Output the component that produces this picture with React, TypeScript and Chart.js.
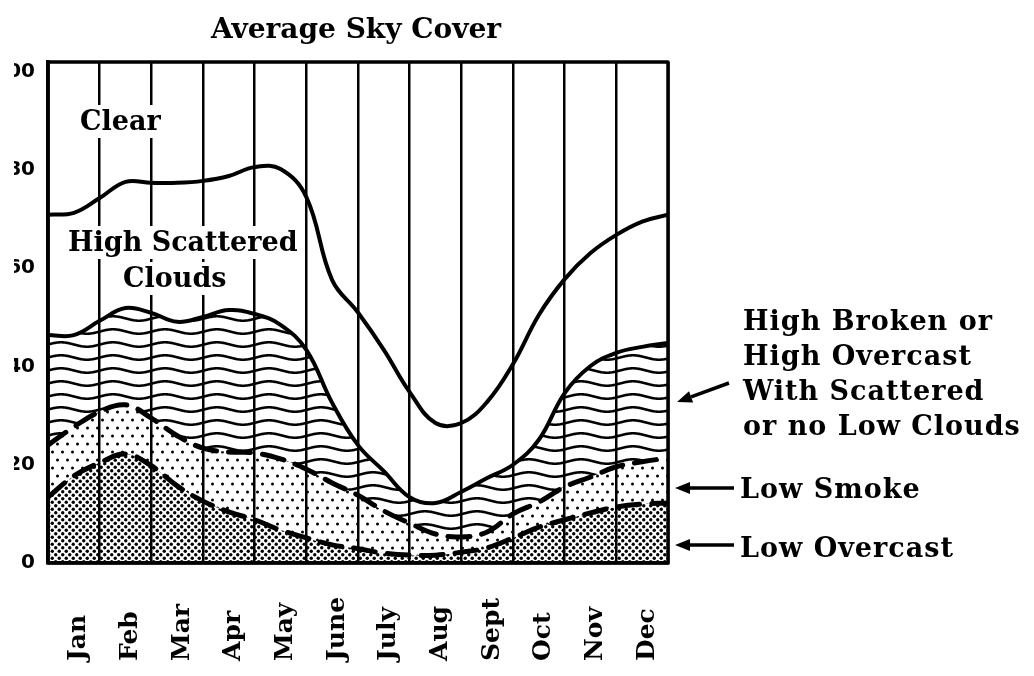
import React, { useEffect, useRef } from "react";
import { Chart, registerables } from "chart.js";

Chart.register(...registerables);

// horizontal shift of the canvas (the reference crops the y labels on the left)
const OFF = 30;

const months = ["Jan", "Feb", "Mar", "Apr", "May", "June", "July", "Aug", "Sept", "Oct", "Nov", "Dec"];
const yTickValues = [0, 20, 40, 60, 80, 100];
// positions in months: edges, mid-months and month boundaries
const xPositions = [0, 0.5, 1, 1.5, 2, 2.5, 3, 3.5, 4, 4.5, 5, 5.5, 6, 6.5, 7, 7.5, 8, 8.5, 9, 9.5, 10, 10.5, 11, 11.5, 12];

// cumulative tops (percent of sky) of each layer
const lowOvercastTop = [13.4, 17.7, 20.4, 22.2, 19.8, 15.7, 12.6, 10.4, 8.8, 6.7, 5.1, 3.7, 2.9, 2.0, 1.6, 1.6, 2.2, 3.1, 5.1, 7.3, 8.8, 10.2, 11.4, 12.0, 12.2];
const lowSmokeTop = [24.0, 27.7, 30.8, 32.2, 29.5, 25.9, 23.4, 22.6, 22.4, 21.2, 19.1, 16.3, 13.8, 10.6, 8.1, 5.9, 5.3, 6.3, 10.0, 12.4, 15.5, 17.5, 19.6, 20.6, 21.4];
const highBrokenTop = [46.4, 46.4, 49.3, 51.9, 50.9, 49.1, 50.1, 51.5, 50.7, 48.5, 43.4, 32.6, 24.0, 18.7, 13.4, 12.2, 14.5, 17.3, 20.0, 25.1, 34.6, 40.1, 42.8, 44.0, 44.8];
const highScatteredTop = [70.9, 71.3, 74.3, 77.6, 77.4, 77.4, 77.8, 78.8, 80.6, 80.2, 74.5, 57.6, 51.0, 43.4, 34.8, 28.5, 28.5, 32.8, 40.5, 50.5, 57.8, 63.1, 66.8, 69.5, 70.9];

const titleText = "Average Sky Cover";
const clearLabel = "Clear";
const scatteredLabel = ["High Scattered", "Clouds"];
const brokenLabel = ["High Broken or", "High Overcast", "With Scattered", "or no Low Clouds"];
const smokeLabel = "Low Smoke";
const overcastLabel = "Low Overcast";

const SERIF = "'DejaVu Serif', serif";

function makePattern(w: number, h: number, draw: (g: CanvasRenderingContext2D) => void): CanvasPattern {
  const c = document.createElement("canvas");
  c.width = w;
  c.height = h;
  const g = c.getContext("2d") as CanvasRenderingContext2D;
  draw(g);
  return g.createPattern(c, "repeat") as CanvasPattern;
}

function dot(g: CanvasRenderingContext2D, x: number, y: number, r: number) {
  g.beginPath();
  g.arc(x, y, r, 0, Math.PI * 2);
  g.fill();
}

function arrow(ctx: CanvasRenderingContext2D, x1: number, y1: number, x2: number, y2: number) {
  const a = Math.atan2(y2 - y1, x2 - x1);
  const hl = 15, hw = 6;
  const bx = x2 - hl * Math.cos(a), by = y2 - hl * Math.sin(a);
  ctx.beginPath();
  ctx.moveTo(x1, y1);
  ctx.lineTo(bx, by);
  ctx.lineWidth = 3.5;
  ctx.stroke();
  ctx.beginPath();
  ctx.moveTo(x2, y2);
  ctx.lineTo(bx + hw * Math.sin(a), by - hw * Math.cos(a));
  ctx.lineTo(bx - hw * Math.sin(a), by + hw * Math.cos(a));
  ctx.closePath();
  ctx.fill();
}

const annotPlugin = {
  id: "annot",
  afterDraw(chart: any) {
    const ctx: CanvasRenderingContext2D = chart.ctx;
    const { left, top, right, bottom } = chart.chartArea;
    const P = (x: number) => x + OFF;
    ctx.save();
    ctx.strokeStyle = "#000";
    ctx.fillStyle = "#000";
    // frame
    ctx.lineWidth = 3.5;
    ctx.lineJoin = "round";
    ctx.strokeRect(left, top, right - left, bottom - top);

    // title
    ctx.font = `bold 28px ${SERIF}`;
    ctx.textAlign = "center";
    ctx.textBaseline = "alphabetic";
    ctx.fillText(titleText, P(356), 38);

    // in-plot labels with white background
    ctx.textAlign = "left";
    ctx.font = `bold 27px ${SERIF}`;
    const boxed = (t: string, x: number, y: number) => {
      const w = ctx.measureText(t).width;
      ctx.fillStyle = "#fff";
      ctx.fillRect(x - 4, y - 25, w + 8, 33);
      ctx.fillStyle = "#000";
      ctx.fillText(t, x, y);
    };
    boxed(clearLabel, P(80), 130);
    boxed(scatteredLabel[0], P(68), 251);
    boxed(scatteredLabel[1], P(123), 287);

    // right-hand labels
    ctx.font = `bold 27px ${SERIF}`;
    try {
      (ctx as any).letterSpacing = "1px";
    } catch (e) {}
    brokenLabel.forEach((t, i) => ctx.fillText(t, P(743), 330 + i * 35));
    ctx.fillText(smokeLabel, P(740), 498);
    ctx.fillText(overcastLabel, P(740), 557);
    try {
      (ctx as any).letterSpacing = "0px";
    } catch (e) {}
    arrow(ctx, P(729), 383, P(677), 402);
    arrow(ctx, P(734), 488, P(675), 488);
    arrow(ctx, P(734), 545, P(675), 545);

    // month labels, rotated, reading upward
    const xs = chart.scales.x;
    ctx.font = `bold 25px ${SERIF}`;
    ctx.textAlign = "left";
    ctx.textBaseline = "middle";
    months.forEach((m, i) => {
      const px = xs.getPixelForValue(i);
      ctx.save();
      ctx.translate(px + 5, 661);
      ctx.rotate(-Math.PI / 2);
      ctx.fillText(m, 0, 0);
      ctx.restore();
    });

    // crop on the left like the scanned page
    ctx.fillStyle = "#fff";
    ctx.fillRect(0, 0, OFF + 14, chart.height);
    ctx.restore();
  },
};

export default function App() {
  const ref = useRef<HTMLCanvasElement | null>(null);

  useEffect(() => {
    if (!ref.current) return;
    const plotLeft = 78;

    const dense = makePattern(7, 7, (g) => {
      g.fillStyle = "#000";
      dot(g, 1.75, 1.75, 1.7);
      dot(g, 5.25, 5.25, 1.7);
    });
    const sparse = makePattern(10, 16, (g) => {
      g.fillStyle = "#000";
      dot(g, 2.5, 4, 1.5);
      dot(g, 7.5, 12, 1.5);
    });
    const waves = makePattern(52, 13, (g) => {
      g.strokeStyle = "#000";
      g.lineWidth = 2.6;
      g.beginPath();
      for (let x = -2; x <= 54; x++) {
        const y = 6.5 - 2.2 * Math.sin((2 * Math.PI * x) / 52);
        if (x === -2) g.moveTo(x, y);
        else g.lineTo(x, y);
      }
      g.stroke();
    });
    try {
      (waves as any).setTransform(new DOMMatrix([1, 0, 0, 1, plotLeft, 0]));
    } catch (e) {}

    const toPts = (arr: number[]) => xPositions.map((x, i) => ({ x, y: arr[i] }));

    const chart = new Chart(ref.current, {
      type: "line",
      data: {
        datasets: [
          {
            label: "Low Overcast",
            data: toPts(lowOvercastTop),
            xAxisID: "xv",
            yAxisID: "y",
            borderColor: "#000",
            borderWidth: 5,
            borderDash: [22, 12],
            borderCapStyle: "round",
            backgroundColor: dense,
            fill: "origin",
          },
          {
            label: "Low Smoke",
            data: toPts(lowSmokeTop),
            xAxisID: "xv",
            yAxisID: "y",
            borderColor: "#000",
            borderWidth: 5,
            borderDash: [22, 12],
            borderCapStyle: "round",
            backgroundColor: sparse,
            fill: "-1",
          },
          {
            label: "High Broken or High Overcast",
            data: toPts(highBrokenTop),
            xAxisID: "xv",
            yAxisID: "y",
            borderColor: "#000",
            borderWidth: 4,
            backgroundColor: waves,
            fill: "-1",
          },
          {
            label: "High Scattered Clouds",
            data: toPts(highScatteredTop),
            xAxisID: "xv",
            yAxisID: "y",
            borderColor: "#000",
            borderWidth: 4,
            fill: false,
          },
        ],
      } as any,
      options: {
        animation: false,
        responsive: false,
        devicePixelRatio: 1,
        layout: { padding: { left: 0, top: 62, right: 366, bottom: 113 } },
        plugins: {
          legend: { display: false },
          tooltip: { enabled: false },
          title: { display: false },
        },
        elements: {
          point: { radius: 0 },
          line: { tension: 0.4, capBezierPoints: true },
        },
        scales: {
          x: {
            type: "category",
            labels: months,
            offset: true,
            position: "bottom",
            grid: { offset: true, color: "#000", lineWidth: 2.5, drawTicks: false },
            border: { display: true, color: "#000", width: 3.5 },
            ticks: { display: false },
            afterFit: (s: any) => {
              s.height = 0;
            },
          },
          xv: { type: "linear", display: false, min: 0, max: 12 },
          y: {
            type: "linear",
            position: "left",
            min: 0,
            max: 102,
            grid: { display: false, drawTicks: false },
            border: { display: true, color: "#000", width: 3.5 },
            ticks: {
              padding: 13,
              color: "#000",
              font: { family: "'DejaVu Sans', sans-serif", weight: "bold", size: 20 },
              callback: (v: any) => String(v),
            },
            afterBuildTicks: (s: any) => {
              s.ticks = yTickValues.map((v) => ({ value: v }));
            },
            afterFit: (s: any) => {
              s.width = plotLeft;
            },
          },
        },
      } as any,
      plugins: [annotPlugin],
    });
    return () => chart.destroy();
  }, []);

  return (
    <div
      style={{
        position: "fixed",
        left: -OFF,
        top: 0,
        width: 1034 + OFF,
        height: 676,
        background: "#fff",
        overflow: "hidden",
      }}
    >
      <canvas ref={ref} width={1034 + OFF} height={676} style={{ display: "block" }} />
    </div>
  );
}
